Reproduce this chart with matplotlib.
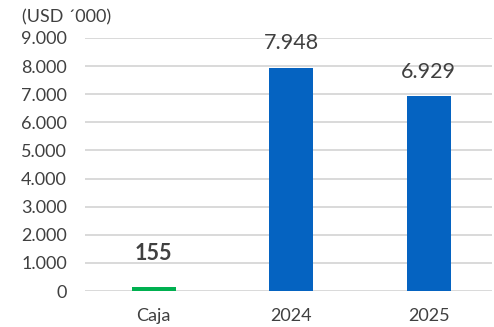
import matplotlib
matplotlib.use("Agg")
import matplotlib.pyplot as plt
from matplotlib.ticker import FuncFormatter

categories = ["Caja", "2024", "2025"]
values = [155, 7948, 6929]
labels = ["155", "7.948", "6.929"]
colors = ["#00B050", "#0563C1", "#0563C1"]
yticks = [0, 1000, 2000, 3000, 4000, 5000, 6000, 7000, 8000, 9000]

plt.rcParams["font.family"] = ["Lato", "DejaVu Sans"]
text_color = "#404040"

fig = plt.figure(figsize=(4.94, 3.27), dpi=100)
ax = fig.add_axes([0.172, 0.11, 0.824, 0.774])

x = range(len(categories))
bars = ax.bar(x, values, width=0.32, color=colors, zorder=3)

ax.set_xlim(-0.5, 2.46)
ax.set_ylim(0, 9000)
ax.set_yticks(yticks)
ax.yaxis.set_major_formatter(FuncFormatter(lambda v, p: f"{int(v):,}".replace(",", ".")))
ax.set_xticks(list(x))
ax.set_xticklabels(categories)

ax.grid(axis="y", color="#D9D9D9", linewidth=1.4, zorder=0)
for s in ax.spines.values():
    s.set_visible(False)
ax.tick_params(axis="both", length=0, labelsize=13, colors=text_color)
ax.tick_params(axis="y", pad=13)
ax.tick_params(axis="x", pad=12)

# value labels
for i, (b, lab) in enumerate(zip(bars, labels)):
    if i == 0:
        ax.annotate(lab, (b.get_x() + b.get_width() / 2, b.get_height()),
                    xytext=(0, 24), textcoords="offset points", ha="center",
                    va="center", fontsize=15.5, fontweight="bold", color=text_color)
    else:
        ax.annotate(lab, (b.get_x() + b.get_width() / 2, b.get_height()),
                    xytext=(0, 17.5), textcoords="offset points", ha="center",
                    va="center", fontsize=15.5, color=text_color)

fig.text(0.044, 0.948, "(USD \u00b4000)", fontsize=13, color=text_color,
         ha="left", va="center")

fig.savefig("out.png", dpi=100)
